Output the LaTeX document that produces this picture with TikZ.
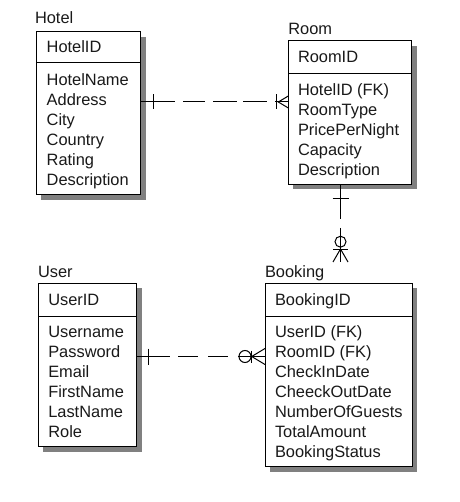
\documentclass[tikz,border=0pt]{standalone}
\usepackage{fontspec}
\setmainfont{Liberation Sans}
\usetikzlibrary{calc,shadows}
\begin{document}
\begin{tikzpicture}[x=1pt,y=-1pt,
  every node/.style={inner sep=0pt,outer sep=0pt},
  txt/.style={anchor=base west,font=\fontsize{16.4}{20}\selectfont,text=black!90},
  entity/.style={draw=black,line width=1pt,fill=white,anchor=north west,
    drop shadow={shadow xshift=5pt,shadow yshift=-5pt,fill=black!50,opacity=1}},
  divider/.style={line width=1pt},
  rel/.style={line width=1pt},
  sym/.style={line width=1pt}]
\useasboundingbox (0,0) rectangle (459,502);

% Hotel
\node[entity,minimum width=104.7pt,minimum height=163pt] (hotel) at (36,32) {};
\draw[divider] ($(hotel.north west)+(0,30.7)$) -- ($(hotel.north east)+(0,30.7)$);
\node[txt] (hotelT) at (35,24) {Hotel};
\node[txt] (hotelK) at (46.7,53) {HotelID};
\foreach \t [count=\i] in {HotelName,Address,City,Country,Rating,Description}
  \node[txt] (hotelA\i) at (46.7,{66+20*\i}) {\t};

% Room
\node[entity,minimum width=123.4pt,minimum height=143.3pt] (room) at (288.3,41) {};
\draw[divider] ($(room.north west)+(0,32.3)$) -- ($(room.north east)+(0,32.3)$);
\node[txt] (roomT) at (288.3,35) {Room};
\node[txt] (roomK) at (298,62.5) {RoomID};
\foreach \t [count=\i] in {HotelID (FK),RoomType,PricePerNight,Capacity,Description}
  \node[txt] (roomA\i) at (298,{75.5+20*\i}) {\t};

% User
\node[entity,minimum width=98.4pt,minimum height=163.4pt] (user) at (38.3,283.3) {};
\draw[divider] ($(user.north west)+(0,32.7)$) -- ($(user.north east)+(0,32.7)$);
\node[txt] (userT) at (38,277) {User};
\node[txt] (userK) at (48.3,305.5) {UserID};
\foreach \t [count=\i] in {Username,Password,Email,FirstName,LastName,Role}
  \node[txt] (userA\i) at (48.3,{317.5+20*\i}) {\t};

% Booking
\node[entity,minimum width=147.3pt,minimum height=183.4pt] (booking) at (265,283.3) {};
\draw[divider] ($(booking.north west)+(0,32.7)$) -- ($(booking.north east)+(0,32.7)$);
\node[txt] (bookingT) at (265,277) {Booking};
\node[txt] (bookingK) at (275,305.5) {BookingID};
\foreach \t [count=\i] in {UserID (FK),RoomID (FK),CheckInDate,CheeckOutDate,NumberOfGuests,TotalAmount,BookingStatus}
  \node[txt] (bookingA\i) at (275,{317.5+20*\i}) {\t};

% Hotel -- Room
\coordinate (y1) at (0,102);
\draw[rel,dash pattern=on 34.3pt off 8pt on 22pt off 8pt on 24pt off 6pt on 24pt off 8pt on 40pt off 1pt]
  (hotel.east |- y1) -- (room.west |- y1);
\draw[sym] ($(hotel.east |- y1)+(12.6,-7.5)$) -- ++(0,15);
\draw[sym] ($(room.west |- y1)+(-11.6,-7.5)$) -- ++(0,15);
\draw[sym] ($(room.west |- y1)+(0,-6)$) -- ($(room.west |- y1)+(-10,0)$) -- ($(room.west |- y1)+(0,6)$);

% Room -- Booking
\coordinate (x2) at (340.5,0);
\coordinate (rbEnd) at (340.5,262);
\draw[rel,dash pattern=on 34.7pt off 9pt on 60pt off 1pt] (room.south -| x2) -- (rbEnd);
\draw[sym] ($(room.south -| x2)+(-8,14)$) -- ++(16,0);
\draw[sym] ($(rbEnd)+(0,-20.3)$) circle[radius=5.5];
\draw[sym] ($(rbEnd)+(-7.5,-13)$) -- ++(15,0);
\draw[sym] ($(rbEnd)+(-7.5,0)$) -- ($(rbEnd)+(0,-13)$) -- ($(rbEnd)+(7.5,0)$);

% User -- Booking
\coordinate (y3) at (0,356.5);
\draw[rel,dash pattern=on 33.3pt off 8pt on 20pt off 10pt on 20pt off 10pt on 40pt off 1pt]
  (user.east |- y3) -- (booking.west |- y3);
\draw[sym] ($(user.east |- y3)+(11.6,-8)$) -- ++(0,16);
\draw[sym] ($(booking.west |- y3)+(-20,0)$) circle[radius=6];
\draw[sym] ($(booking.west |- y3)+(-13.3,-6)$) -- ++(0,12);
\draw[sym] ($(booking.west |- y3)+(0,-8)$) -- ($(booking.west |- y3)+(-13.3,0)$) -- ($(booking.west |- y3)+(0,8)$);
\end{tikzpicture}
\end{document}
